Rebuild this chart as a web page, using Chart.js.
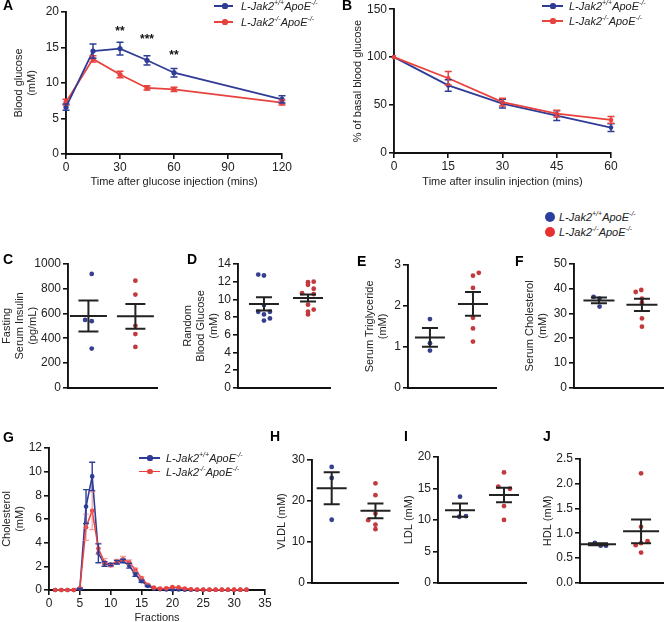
<!DOCTYPE html>
<html>
<head>
<meta charset="utf-8">
<title>L-Jak2 ApoE figure</title>
<script src="https://cdn.jsdelivr.net/npm/chart.js@4.4.1/dist/chart.umd.min.js"></script>
<style>
html,body{margin:0;padding:0;background:#fff;}
body{width:667px;height:622px;position:relative;overflow:hidden;font-family:"Liberation Sans",Arial,Helvetica,sans-serif;color:#222;}
canvas{position:absolute;}
.plabel{position:absolute;font-weight:bold;font-size:14px;line-height:14px;color:#000;}
.legtext{position:absolute;font-style:italic;font-size:11px;line-height:14px;color:#222;white-space:nowrap;}
.legtext sup{font-size:7px;line-height:0;vertical-align:5px;}
.legline{position:absolute;height:1.6px;}
.legdot{position:absolute;border-radius:50%;}
</style>
</head>
<body>
<script>
// ================= DATA =================
const wtName = 'L-Jak2<sup>+/+</sup>ApoE<sup>-/-</sup>';
const koName = 'L-Jak2<sup>-/-</sup>ApoE<sup>-/-</sup>';

// A: glucose tolerance test
const gttMinutes = [0, 15, 30, 45, 60, 120];
const gttWT    = [6.6, 14.5, 14.85, 13.2, 11.45, 7.7];
const gttWTsem = [0.45, 1.0, 0.9, 0.65, 0.6, 0.5];
const gttKO    = [7.3, 13.4, 11.2, 9.3, 9.1, 7.25];
const gttKOsem = [0.4, 0.45, 0.45, 0.3, 0.3, 0.35];
const gttSigLabels = ['**', '***', '**'];
const gttSigX = [30, 45, 60];
const gttSigY = [17.7, 16.5, 14.35];

// B: insulin tolerance test
const ittMinutes = [0, 15, 30, 45, 60];
const ittWT    = [100, 70.5, 51.5, 39, 26.5];
const ittWTsem = [0, 6, 4.5, 5, 4];
const ittKO    = [100, 78, 53, 41, 34.5];
const ittKOsem = [0, 7, 4, 3.5, 3.5];

// scatter group positions (WT, KO)
const groupX = [1, 3];

// C: fasting serum insulin (pg/mL)
const insulinWT  = [920, 548, 538, 317];
const insulinWTx = [1.14, 0.86, 1.14, 1.14];
const insulinKO  = [865, 753, 501, 434, 330];
const insulinKOx = [3, 3, 3, 3, 3];
const insulinMean = [580, 577];
const insulinSem  = [125, 100];

// D: random blood glucose (mM)
const glucoseWT  = [12.8, 12.7, 9.35, 8.6, 8.6, 8.3, 7.85, 7.6];
const glucoseWTx = [0.74, 1.0, 1.0, 0.74, 1.27, 1.0, 1.27, 1.0];
const glucoseKO  = [12.0, 11.95, 11.65, 11.2, 10.7, 10.6, 9.4, 8.85, 8.6, 8.3];
const glucoseKOx = [3.26, 3.0, 3.0, 3.26, 2.73, 3.26, 3.0, 3.26, 3.0, 3.0];
const glucoseMean = [9.48, 10.15];
const glucoseSem  = [0.75, 0.4];

// E: serum triglyceride (mM)
const tgWT  = [1.68, 1.09, 0.91];
const tgWTx = [1, 1, 1];
const tgKO  = [2.81, 2.74, 2.44, 1.71, 1.45, 1.13];
const tgKOx = [3.27, 3.0, 3.0, 3.0, 3.0, 3.0];
const tgMean = [1.23, 2.05];
const tgSem  = [0.23, 0.29];

// F: serum cholesterol (mM)
const cholWT  = [36.7, 36.0, 32.8];
const cholWTx = [0.75, 1.03, 1.03];
const cholKO  = [38.7, 39.5, 36.0, 34.4, 28.0, 24.7];
const cholKOx = [2.71, 2.97, 3.0, 3.0, 3.0, 3.0];
const cholMean = [35.3, 33.5];
const cholSem  = [1.2, 2.5];

// G: FPLC cholesterol profile
const fractions = [1,2,3,4,5,6,7,8,9,10,11,12,13,14,15,16,17,18,19,20,21,22,23,24,25,26,27,28,29,30,31,32];
const fpWT    = [0,0,0,0,0.1,7.05,9.6,3.1,2.2,2.15,2.35,2.45,2.05,1.3,0.75,0.35,0.12,0.06,0.05,0.05,0.04,0.03,0.02,0.02,0.02,0.02,0.02,0.02,0.02,0.02,0.02,0.02];
const fpWTsem = [0,0,0,0,0.05,1.43,1.2,0.8,0.2,0.1,0.15,0.15,0.2,0.15,0.1,0.05,0,0,0,0,0,0,0,0,0,0,0,0,0,0,0,0];
const fpKO    = [0,0,0,0,0.15,5.3,6.7,3.5,2.35,2.1,2.4,2.6,2.35,1.7,1.0,0.45,0.2,0.12,0.15,0.25,0.22,0.12,0.06,0.04,0.03,0.03,0.03,0.03,0.03,0.03,0.03,0.03];
const fpKOsem = [0,0,0,0,0.05,1.1,1.6,0.45,0.3,0.15,0.2,0.25,0.2,0.15,0.1,0.05,0,0,0,0,0,0,0,0,0,0,0,0,0,0,0,0];

// H: VLDL (mM)
const vldlWT  = [28.3, 25.6, 15.4];
const vldlWTx = [1, 1, 1];
const vldlKO  = [24.3, 21.4, 16.9, 15.3, 14.2, 13.1];
const vldlKOx = [3, 3, 3, 2.67, 3, 3];
const vldlMean = [23.1, 17.6];
const vldlSem  = [3.9, 1.8];

// I: LDL (mM)
const ldlWT  = [13.7, 10.5, 10.6];
const ldlWTx = [1.0, 0.97, 1.27];
const ldlKO  = [17.55, 15.3, 14.95, 12.2, 10.0];
const ldlKOx = [3.0, 2.74, 3.27, 3.0, 3.0];
const ldlMean = [11.55, 13.95];
const ldlSem  = [1.05, 1.15];

// J: HDL (mM)
const hdlWT  = [0.805, 0.75, 0.75];
const hdlWTx = [0.85, 1.12, 1.37];
const hdlKO  = [2.21, 1.13, 0.84, 0.8, 0.76, 0.61];
const hdlKOx = [3.0, 3.0, 3.3, 3.0, 2.75, 3.0];
const hdlMean = [0.78, 1.04];
const hdlSem  = [0.02, 0.24];

// ================= STYLE =================
const FONT = '"Liberation Sans", Arial, Helvetica, sans-serif';
Chart.defaults.font.family = FONT;
Chart.defaults.color = '#222';
const C_BLUE = '#2f3c96', C_RED = '#e8423f';
const S_BLUE = '#37408e', S_RED = '#c23a3d';
const L_BLUE = '#2d3f9e', L_RED = '#e8302f';
const AXIS = '#111';

function pts(xs, ys){ return xs.map((x,i)=>({x:x, y:ys[i]})); }

// ================= PLUGINS =================
const errorBars = {
  id:'errorBars',
  afterDatasetsDraw(chart){
    const ctx = chart.ctx, ys = chart.scales.y;
    chart.data.datasets.forEach((ds,i)=>{
      if(!ds.errors) return;
      const meta = chart.getDatasetMeta(i);
      ctx.save();
      ctx.strokeStyle = ds.errorColor || ds.borderColor;
      ctx.lineWidth = ds.errorWidth || 1.5;
      meta.data.forEach((el,j)=>{
        const e = ds.errors[j]; if(!e) return;
        const v = ds.data[j].y;
        const y1 = ys.getPixelForValue(v+e), y2 = ys.getPixelForValue(v-e);
        const x = el.x, c = ds.capWidth || 3.5;
        ctx.beginPath();
        ctx.moveTo(x,y1); ctx.lineTo(x,y2);
        ctx.moveTo(x-c,y1); ctx.lineTo(x+c,y1);
        ctx.moveTo(x-c,y2); ctx.lineTo(x+c,y2);
        ctx.stroke();
      });
      ctx.restore();
    });
  }
};
const sigStars = {
  id:'sigStars',
  afterDatasetsDraw(chart, args, o){
    if(!o || !o.labels) return;
    const ctx = chart.ctx, xs = chart.scales.x, ys = chart.scales.y;
    ctx.save();
    ctx.font = 'bold 12px ' + FONT; ctx.fillStyle = '#111';
    ctx.textAlign = 'center'; ctx.textBaseline = 'alphabetic';
    o.labels.forEach((lab,i)=>{
      const m = ctx.measureText(lab);
      const cx = xs.getPixelForValue(o.x[i]), cy = ys.getPixelForValue(o.y[i]);
      ctx.fillText(lab, cx, cy + (m.actualBoundingBoxAscent - m.actualBoundingBoxDescent)/2);
    });
    ctx.restore();
  }
};
const meanSem = {
  id:'meanSem',
  afterDatasetsDraw(chart, args, o){
    if(!o || !o.means) return;
    const ctx = chart.ctx, xs = chart.scales.x, ys = chart.scales.y;
    ctx.save(); ctx.strokeStyle = '#222'; ctx.lineWidth = 2;
    o.means.forEach((m,i)=>{
      const cx = xs.getPixelForValue(o.centers[i]);
      const ym = ys.getPixelForValue(m);
      const yt = ys.getPixelForValue(m + o.sems[i]);
      const yb = ys.getPixelForValue(m - o.sems[i]);
      ctx.beginPath();
      ctx.moveTo(cx-o.halfW, ym); ctx.lineTo(cx+o.halfW, ym);
      ctx.moveTo(cx, yt); ctx.lineTo(cx, yb);
      ctx.moveTo(cx-o.capW, yt); ctx.lineTo(cx+o.capW, yt);
      ctx.moveTo(cx-o.capW, yb); ctx.lineTo(cx+o.capW, yb);
      ctx.stroke();
    });
    ctx.restore();
  }
};
Chart.register(errorBars, sigStars, meanSem);

// ================= HELPERS =================
function makeCanvas(left, top, width, height){
  const c = document.createElement('canvas');
  c.width = width; c.height = height;
  c.style.left = left+'px'; c.style.top = top+'px';
  c.style.width = width+'px'; c.style.height = height+'px';
  document.body.appendChild(c);
  return c;
}
function axisY(o){
  return {
    type:'linear', min:o.min, max:o.max,
    afterFit:s=>{ s.width = o.yW; },
    ticks:{stepSize:o.step, font:{size:12}, color:'#222', padding:2, autoSkip:false,
           callback: o.fmt || (v=>String(v))},
    grid:{display:true, drawOnChartArea:false, drawTicks:true, tickLength:5, color:AXIS, lineWidth:1.6},
    border:{display:true, color:AXIS, width:1.9},
    title:{display:true, text:o.title, font:{size:11}, color:'#222', padding:{top:o.titlePad, bottom:0}}
  };
}
function axisX(o){
  return {
    type:'linear', min:o.min, max:o.max,
    afterFit:s=>{ s.height = o.xH; },
    ticks:{stepSize:o.step, font:{size:12}, color:'#222', padding:1, autoSkip:false, maxRotation:0,
           callback:v=>String(v)},
    grid:{display:true, drawOnChartArea:false, drawTicks:true, tickLength:5, color:AXIS, lineWidth:1.6},
    border:{display:true, color:AXIS, width:1.9},
    title:{display:true, text:o.title, font:{size:11}, color:'#222', padding:{top:0, bottom:o.titlePad}}
  };
}
function axisGroups(o){
  return {
    type:'linear', min:o.min, max:o.max,
    afterFit:s=>{ s.height = o.xH; },
    ticks:{display:false}, grid:{display:false},
    border:{display:true, color:AXIS, width:1.9}
  };
}
function panel(cfg){
  const a = cfg.area;
  const left = a.l - cfg.yW, top = a.t - cfg.pt;
  const width = a.r + cfg.pr - left, height = a.b + cfg.xH - top;
  const cv = makeCanvas(left, top, width, height);
  return new Chart(cv, {
    type: cfg.type,
    data: {datasets: cfg.datasets},
    options: {
      responsive:false, animation:false, devicePixelRatio:1,
      layout:{padding:{left:0, top:cfg.pt, right:cfg.pr, bottom:0}},
      plugins:{legend:{display:false}, tooltip:{enabled:false},
               sigStars: cfg.stars || {}, meanSem: cfg.meanSem || {}},
      scales:{x: cfg.x, y: cfg.y}
    }
  });
}
function lineDS(xs, ys, errs, color, extra){
  return Object.assign({
    data: pts(xs, ys), errors: errs, borderColor: color, backgroundColor: color,
    borderWidth: 1.8, pointRadius: 2.6, pointBorderWidth: 0, tension: 0, clip: false,
    errorColor: color, capWidth: 3.5
  }, extra || {});
}
function dotDS(xs, ys, color){
  return {data: pts(xs, ys), backgroundColor: color, borderWidth: 0, pointRadius: 2.4, clip: false};
}
function scatterPanel(p){
  return panel({
    type:'scatter', area:p.area, yW:p.yW, pt:p.pt, pr:p.pr, xH:4,
    datasets:[dotDS(p.wtx, p.wt, S_BLUE), dotDS(p.kox, p.ko, S_RED)],
    x: axisGroups({min:p.xmin, max:p.xmax, xH:4}),
    y: axisY({min:p.ymin, max:p.ymax, step:p.step, yW:p.yW, title:p.title, titlePad:p.titlePad, fmt:p.fmt}),
    meanSem:{means:p.mean, sems:p.sem, centers:groupX, halfW:p.halfW, capW:p.capW}
  });
}
function addLabel(ch, x, y){
  const d = document.createElement('div'); d.className='plabel';
  d.textContent = ch; d.style.left = x+'px'; d.style.top = y+'px';
  document.body.appendChild(d);
}
function legendLineRow(x1, x2, dotX, y, textX, color, html){
  const l = document.createElement('div'); l.className='legline';
  l.style.left=x1+'px'; l.style.width=(x2-x1)+'px'; l.style.top=(y-0.8)+'px'; l.style.background=color;
  const d = document.createElement('div'); d.className='legdot';
  d.style.left=(dotX-2.6)+'px'; d.style.top=(y-2.6)+'px'; d.style.width='5.2px'; d.style.height='5.2px'; d.style.background=color;
  const t = document.createElement('div'); t.className='legtext';
  t.innerHTML = html; t.style.left=textX+'px'; t.style.top=(y-7)+'px';
  document.body.append(l, d, t);
}
function legendDotRow(cx, y, r, textX, color, html){
  const d = document.createElement('div'); d.className='legdot';
  d.style.left=(cx-r)+'px'; d.style.top=(y-r)+'px'; d.style.width=(2*r)+'px'; d.style.height=(2*r)+'px'; d.style.background=color;
  const t = document.createElement('div'); t.className='legtext';
  t.innerHTML = html; t.style.left=textX+'px'; t.style.top=(y-7)+'px';
  document.body.append(d, t);
}

// ================= PANELS =================
// A
panel({
  type:'line', area:{l:66,t:12,r:282,b:154}, yW:66, pt:12, pr:25, xH:41,
  datasets:[ lineDS(gttMinutes, gttKO, gttKOsem, C_RED, {order:1}),
             lineDS(gttMinutes, gttWT, gttWTsem, C_BLUE, {order:0}) ],
  x: axisX({min:0, max:120, step:30, xH:41, title:'Time after glucose injection (mins)', titlePad:6.4}),
  y: axisY({min:0, max:20, step:5, yW:66, title:['Blood glucose','(mM)'], titlePad:12.4}),
  stars:{labels:gttSigLabels, x:gttSigX, y:gttSigY}
});
// B
panel({
  type:'line', area:{l:394,t:8,r:611,b:153}, yW:54, pt:8, pr:30, xH:42,
  datasets:[ lineDS(ittMinutes, ittWT, ittWTsem, C_BLUE, {order:1, pointRadius:2.3}),
             lineDS(ittMinutes, ittKO, ittKOsem, C_RED, {order:0, pointRadius:2.3}) ],
  x: axisX({min:0, max:60, step:15, xH:42, title:'Time after insulin injection (mins)', titlePad:6.4}),
  y: axisY({min:0, max:150, step:50, yW:54, title:'% of basal blood glucose', titlePad:11.4})
});
// C
scatterPanel({area:{l:68,t:264,r:157,b:393}, yW:68, pt:14, pr:8, xmin:0.13, xmax:3.92,
  ymin:0, ymax:1000, step:200, title:['Fasting','Serum Insulin','(pg/mL)'], titlePad:0,
  wt:insulinWT, wtx:insulinWTx, ko:insulinKO, kox:insulinKOx, mean:insulinMean, sem:insulinSem, halfW:18.5, capW:10});
// D
scatterPanel({area:{l:238,t:264,r:330,b:393}, yW:58, pt:14, pr:5, xmin:-0.18, xmax:4.0,
  ymin:0, ymax:14, step:2, title:['Random','Blood Glucose','(mM)'], titlePad:1.4,
  wt:glucoseWT, wtx:glucoseWTx, ko:glucoseKO, kox:glucoseKOx, mean:glucoseMean, sem:glucoseSem, halfW:15, capW:8});
// E
scatterPanel({area:{l:408,t:265,r:496,b:393}, yW:53, pt:15, pr:6, xmin:-0.02, xmax:4.07,
  ymin:0, ymax:3, step:1, title:['Serum Triglyceride','(mM)'], titlePad:8.4,
  wt:tgWT, wtx:tgWTx, ko:tgKO, kox:tgKOx, mean:tgMean, sem:tgSem, halfW:15, capW:8});
// F
scatterPanel({area:{l:574,t:264,r:667,b:393}, yW:62, pt:14, pr:0, xmin:-0.16, xmax:3.98,
  ymin:0, ymax:50, step:10, title:['Serum Cholesterol','(mM)'], titlePad:11.4,
  wt:cholWT, wtx:cholWTx, ko:cholKO, kox:cholKOx, mean:cholMean, sem:cholSem, halfW:15.5, capW:8});
// G
panel({
  type:'line', area:{l:49,t:448,r:265,b:590}, yW:49, pt:13, pr:20, xH:42,
  datasets:[ lineDS(fractions, fpKO, fpKOsem, C_RED, {order:0, pointRadius:2.3, borderWidth:1.5,
                    errorColor:'rgba(238,120,120,0.7)', errorWidth:1.2, capWidth:3}),
             lineDS(fractions, fpWT, fpWTsem, C_BLUE, {order:1, pointRadius:2.3, borderWidth:1.6,
                    errorWidth:1.4, capWidth:3}) ],
  x: axisX({min:0, max:35, step:5, xH:42, title:'Fractions', titlePad:7}),
  y: axisY({min:0, max:12, step:2, yW:49, title:['Cholesterol','(mM)'], titlePad:0})
});
// H
scatterPanel({area:{l:312,t:460,r:398,b:588}, yW:42, pt:15, pr:6, xmin:0.1, xmax:4.03,
  ymin:0, ymax:30, step:10, title:'VLDL (mM)', titlePad:5.1,
  wt:vldlWT, wtx:vldlWTx, ko:vldlKO, kox:vldlKOx, mean:vldlMean, sem:vldlSem, halfW:15, capW:8});
// I
scatterPanel({area:{l:438,t:457,r:526,b:588}, yW:38, pt:14, pr:6, xmin:0.0, xmax:4.0,
  ymin:0, ymax:20, step:5, title:'LDL (mM)', titlePad:2.7,
  wt:ldlWT, wtx:ldlWTx, ko:ldlKO, kox:ldlKOx, mean:ldlMean, sem:ldlSem, halfW:15, capW:8});
// J
scatterPanel({area:{l:580,t:459,r:667,b:588}, yW:40, pt:14, pr:0, xmin:0.16, xmax:4.02,
  ymin:0, ymax:2.5, step:0.5, title:'HDL (mM)', titlePad:1.7, fmt:v=>v.toFixed(1),
  wt:hdlWT, wtx:hdlWTx, ko:hdlKO, kox:hdlKOx, mean:hdlMean, sem:hdlSem, halfW:18, capW:10});

// ================= LEGENDS =================
legendLineRow(214, 233, 225, 6, 241, C_BLUE, wtName);
legendLineRow(214, 233, 225, 22, 241, C_RED, koName);
legendLineRow(542, 563, 553, 6, 569, C_BLUE, wtName);
legendLineRow(542, 563, 553, 21, 569, C_RED, koName);
legendDotRow(550, 217, 5, 559, L_BLUE, wtName);
legendDotRow(550, 232, 5, 559, L_RED, koName);
legendLineRow(139, 160, 150, 458, 166, C_BLUE, wtName);
legendLineRow(139, 160, 150, 471.5, 166, C_RED, koName);

// ================= PANEL LETTERS =================
addLabel('A', 3, -2);
addLabel('B', 342, -2);
addLabel('C', 3, 252);
addLabel('D', 187, 252);
addLabel('E', 357, 254);
addLabel('F', 515, 254);
addLabel('G', 3, 430);
addLabel('H', 270, 429);
addLabel('I', 404, 429);
addLabel('J', 543, 429);
</script>
</body>
</html>
